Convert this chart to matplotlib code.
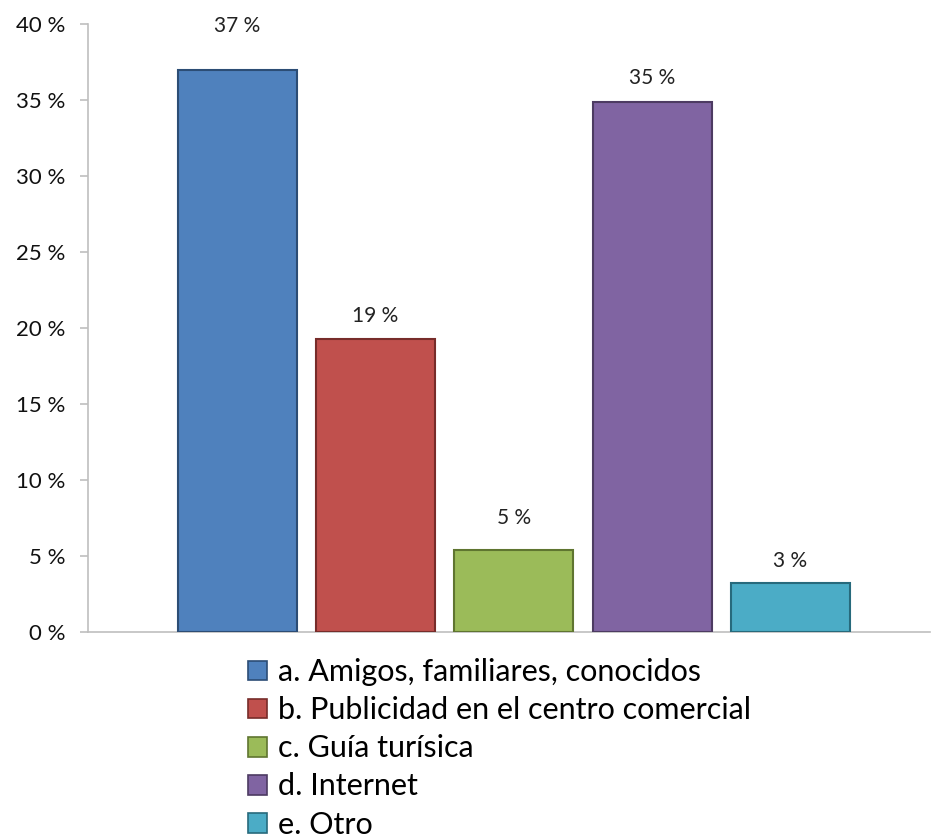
# -*- coding: utf-8 -*-

import matplotlib.pyplot as plt
from matplotlib.patches import Patch
from matplotlib.ticker import FuncFormatter

categories = ['a. Amigos, familiares, conocidos',
              'b. Publicidad en el centro comercial',
              'c. Guía turísica',
              'd. Internet',
              'e. Otro']
values = [37.0, 19.3, 5.4, 34.9, 3.2]
labels = ['37 %', '19 %', '5 %', '35 %', '3 %']
colors = ['#4F81BD', '#C0504D', '#9BBB59', '#8064A2', '#4BACC6']
edges = ['#2C4D75', '#772C2A', '#5F7530', '#4D3B62', '#276A7C']
label_offsets = [24, 9, 16, 10, 9]

plt.rcParams['font.family'] = ['Lato', 'DejaVu Sans']

fig = plt.figure(figsize=(9.32, 8.38), dpi=100)
ax = fig.add_axes([88 / 932, 1 - 632 / 838, 842 / 932, 608 / 838])

x = list(range(len(values)))
bars = ax.bar(x, values, width=0.86, color=colors, edgecolor=edges,
              linewidth=1.5, zorder=3)

for i, b in enumerate(bars):
    ax.annotate(labels[i], (b.get_x() + b.get_width() / 2, b.get_height()),
                xytext=(0, label_offsets[i]), textcoords='offset points',
                ha='center', va='bottom', fontsize=15, color='#222222')

ax.set_xlim(-1.08, 5.01)
ax.set_ylim(0, 40)
ax.set_yticks(range(0, 41, 5))
ax.yaxis.set_major_formatter(FuncFormatter(lambda v, p: '%d %%' % v))
ax.set_xticks([])

for s in ['top', 'right']:
    ax.spines[s].set_visible(False)
for s in ['left', 'bottom']:
    ax.spines[s].set_color('#BFBFBF')
    ax.spines[s].set_linewidth(1.2)
ax.tick_params(axis='y', length=6, width=1.2, color='#BFBFBF',
               labelsize=16, labelcolor='#111111', pad=10)

handles = [Patch(facecolor=c, edgecolor=e, linewidth=1.2)
           for c, e in zip(colors, edges)]
fig.legend(handles, categories, loc='upper left',
           bbox_to_anchor=(236 / 932, 1 - 646 / 838), frameon=False,
           fontsize=22, handlelength=0.62, handleheight=0.62,
           handletextpad=0.35, labelspacing=0.33, borderaxespad=0)

plt.savefig('out.png', dpi=100)
plt.close('all')
